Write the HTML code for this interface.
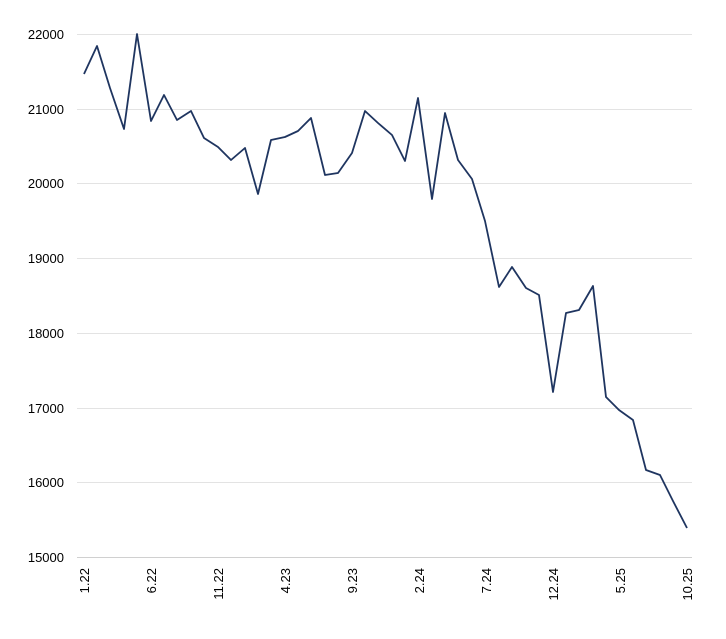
<!DOCTYPE html>
<html><head><meta charset="utf-8"><style>body{margin:0;background:#fff}svg{display:block}</style></head>
<body>
<svg width="726" height="639" xmlns="http://www.w3.org/2000/svg" font-family="Liberation Sans, sans-serif" font-size="13" fill="#000">
<g stroke="#e3e3e3" stroke-width="1">
<line x1="77" x2="692" y1="34.5" y2="34.5"/>
<line x1="77" x2="692" y1="109.5" y2="109.5"/>
<line x1="77" x2="692" y1="183.5" y2="183.5"/>
<line x1="77" x2="692" y1="258.5" y2="258.5"/>
<line x1="77" x2="692" y1="333.5" y2="333.5"/>
<line x1="77" x2="692" y1="408.5" y2="408.5"/>
<line x1="77" x2="692" y1="482.5" y2="482.5"/>
</g>
<line x1="77" x2="692" y1="557.5" y2="557.5" stroke="#d0d0d0"/>
<g text-anchor="end">
<text x="64" y="39">22000</text>
<text x="64" y="114">21000</text>
<text x="64" y="188">20000</text>
<text x="64" y="263">19000</text>
<text x="64" y="338">18000</text>
<text x="64" y="413">17000</text>
<text x="64" y="487">16000</text>
<text x="64" y="562">15000</text>
</g>
<g text-anchor="end">
<text transform="translate(89,568) rotate(-90)">1.22</text>
<text transform="translate(156,568) rotate(-90)">6.22</text>
<text transform="translate(223,568) rotate(-90)">11.22</text>
<text transform="translate(290,568) rotate(-90)">4.23</text>
<text transform="translate(357,568) rotate(-90)">9.23</text>
<text transform="translate(424,568) rotate(-90)">2.24</text>
<text transform="translate(491,568) rotate(-90)">7.24</text>
<text transform="translate(558,568) rotate(-90)">12.24</text>
<text transform="translate(625,568) rotate(-90)">5.25</text>
<text transform="translate(692,568) rotate(-90)">10.25</text>
</g>
<polyline fill="none" stroke="#1f3560" stroke-width="1.8" stroke-linejoin="round" points="84,74 97,46 110,88 124,129 137,34 151,121 164,95 177,120 191,111 204,138 218,147 231,160 245,148 258,194 271,140 285,137 298,131 311,118 325,175 338,173 352,153 365,111 378,123 392,135 405,161 418,98 432,199 445,113 458,160 472,179 485,221 499,287 512,267 526,288 539,295 553,392 566,313 579,310 593,286 606,397 619,410 633,420 646,470 660,475 673,501 687,528"/>
</svg>
</body></html>
